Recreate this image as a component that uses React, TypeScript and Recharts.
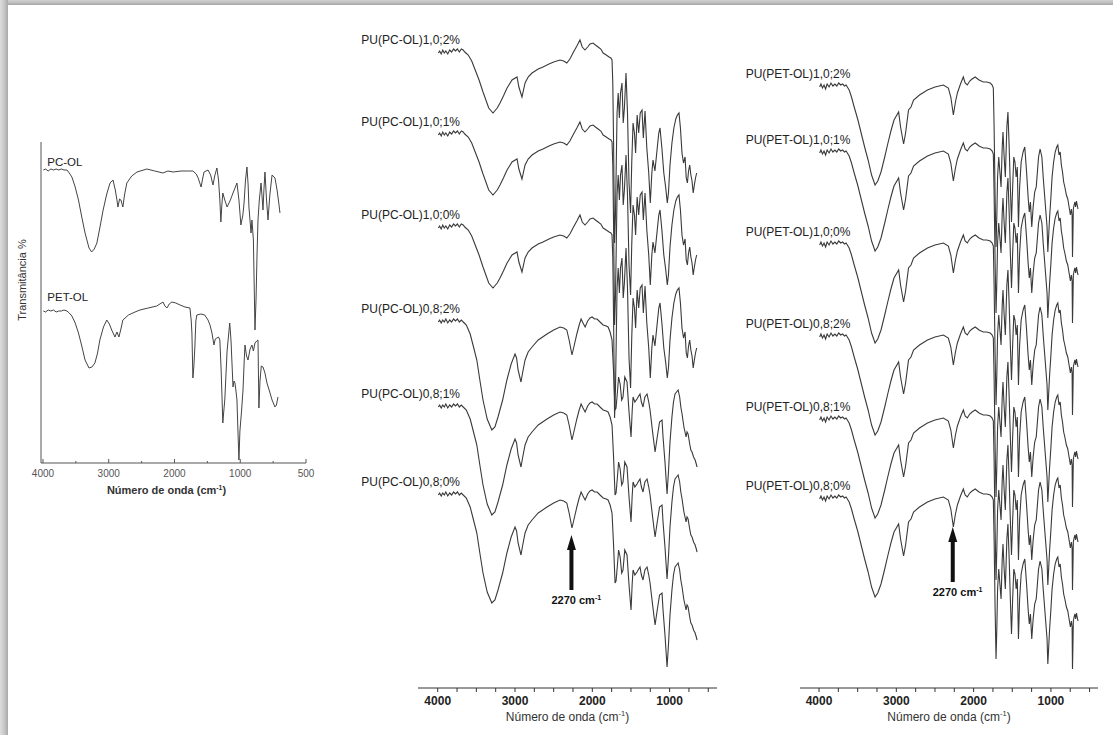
import { LineChart, Line, XAxis, YAxis, ReferenceDot } from 'recharts'

/**
 * FTIR spectra: PC-OL / PET-OL polyols (left) and the PU films made from them
 * (middle: PC-OL, right: PET-OL). Spectra are stacked with a vertical offset,
 * as in the original figure. Residual NCO band marked at 2270 cm-1.
 */

const FONT = 'Arial, "Liberation Sans", Helvetica, sans-serif'
const INK = '#333'

// [wavenumber cm-1, absorption depth below the trace's own baseline (a.u.)]
const PC_10_PROFILE: [number, number][] = [
  [3992, 0], [3975, -2], [3955, 1], [3935, -3], [3915, 0], [3895, -2], [3870, 1], [3845, -3], [3820, -1],
  [3795, -4], [3770, -2], [3745, -4], [3720, -1], [3695, -4], [3670, -3], [3650, -1], [3605, 2], [3560, 8],
  [3515, 17], [3465, 27], [3414, 39], [3340, 55], [3285, 60], [3230, 55], [3194, 50], [3150, 43], [3103, 35],
  [3039, 27], [2974, 24], [2950, 34], [2910, 44], [2870, 30], [2830, 24], [2780, 20], [2700, 16], [2638, 14],
  [2560, 11], [2500, 9], [2418, 7], [2370, 8], [2330, 10], [2290, 6], [2250, 0], [2200, -7], [2160, -13],
  [2130, -6], [2095, -3], [2060, -6], [2030, -9], [1990, -10], [1960, -8], [1925, -6], [1890, -4], [1860, 0],
  [1820, 2], [1783, 4], [1760, 5], [1745, 7], [1735, 30], [1725, 90], [1712, 190], [1700, 160], [1690, 110],
  [1680, 60], [1665, 40], [1650, 65], [1635, 40], [1616, 30], [1600, 70], [1585, 55], [1564, 20], [1545, 60],
  [1525, 130], [1505, 160], [1490, 110], [1473, 70], [1455, 80], [1440, 100], [1420, 62], [1400, 80],
  [1380, 60], [1357, 57], [1340, 85], [1318, 58], [1295, 95], [1270, 120], [1250, 150], [1230, 120],
  [1215, 107], [1190, 118], [1160, 95], [1140, 80], [1124, 75], [1100, 95], [1075, 120], [1050, 135],
  [1030, 150], [1015, 140], [995, 112], [970, 90], [945, 75], [920, 66], [900, 62], [879, 60], [860, 75],
  [840, 100], [820, 110], [800, 104], [785, 125], [770, 130], [755, 118], [740, 112], [725, 122], [710, 128],
  [695, 140], [680, 132], [665, 125], [650, 120],
]

const PC_08_PROFILE: [number, number][] = [
  [3992, 0], [3975, -2], [3955, 1], [3935, -2], [3915, 0], [3895, -3], [3870, 1], [3845, -2], [3820, 0],
  [3795, -3], [3770, -1], [3745, -3], [3720, 0], [3695, -2], [3670, 0], [3630, 3], [3580, 12], [3540, 24],
  [3494, 38], [3455, 58], [3414, 78], [3360, 97], [3300, 108], [3260, 105], [3220, 95], [3160, 78],
  [3105, 58], [3050, 42], [3000, 32], [2980, 36], [2960, 48], [2923, 60], [2900, 50], [2870, 38], [2830, 30],
  [2780, 25], [2700, 18], [2586, 12], [2500, 8], [2418, 5], [2370, 6], [2330, 8], [2300, 18], [2263, 33],
  [2230, 22], [2200, 12], [2170, 3], [2145, -3], [2120, 1], [2093, 5], [2060, -1], [2030, -4], [2003, -5],
  [1970, -3], [1938, -3], [1900, 0], [1860, 3], [1820, 4], [1796, 5], [1770, 10], [1745, 18], [1725, 50],
  [1706, 88], [1693, 86], [1675, 70], [1660, 55], [1640, 62], [1620, 78], [1603, 75], [1580, 55],
  [1551, 60], [1525, 90], [1499, 115], [1485, 90], [1473, 75], [1450, 80], [1422, 77], [1400, 74],
  [1383, 72], [1365, 80], [1344, 85], [1320, 75], [1292, 72], [1270, 80], [1253, 88], [1220, 110],
  [1188, 130], [1160, 115], [1130, 100], [1098, 98], [1085, 115], [1060, 140], [1033, 172], [1015, 150],
  [995, 120], [970, 95], [950, 80], [930, 72], [910, 70], [890, 68], [870, 75], [855, 85], [839, 92],
  [815, 105], [787, 115], [775, 110], [761, 112], [740, 122], [725, 128], [710, 130], [690, 135], [670, 138],
  [655, 142], [645, 145],
]

const PET_PROFILE: [number, number][] = [
  [3992, 0], [3975, -3], [3955, 1], [3935, -2], [3915, 2], [3895, -3], [3870, 0], [3845, -4], [3820, -1],
  [3795, -3], [3770, -1], [3745, -4], [3720, -2], [3695, -3], [3670, -1], [3650, -2], [3610, 3], [3580, 10],
  [3545, 20], [3500, 32], [3455, 46], [3410, 60], [3365, 73], [3320, 88], [3275, 98], [3240, 94], [3198, 85],
  [3150, 70], [3108, 56], [3070, 44], [3030, 33], [2970, 25], [2945, 40], [2906, 57], [2880, 46], [2842, 23],
  [2810, 20], [2777, 13], [2700, 8], [2597, 3], [2500, 0], [2391, -2], [2327, 1], [2295, 10], [2262, 28],
  [2235, 15], [2210, 6], [2170, -3], [2133, -10], [2110, -4], [2082, -2], [2050, -6], [2020, -8], [1979, -10],
  [1930, -7], [1875, -5], [1830, -5], [1785, -4], [1760, -2], [1745, 1], [1735, 40], [1722, 110], [1710, 160],
  [1700, 130], [1690, 90], [1675, 70], [1660, 85], [1645, 100], [1630, 60], [1620, 45], [1605, 70],
  [1590, 90], [1570, 40], [1556, 25], [1540, 60], [1525, 100], [1510, 135], [1495, 100], [1480, 70],
  [1465, 75], [1450, 90], [1435, 80], [1420, 140], [1405, 100], [1385, 75], [1360, 65], [1338, 60],
  [1315, 85], [1295, 110], [1280, 125], [1265, 115], [1248, 140], [1230, 120], [1210, 105], [1190, 100],
  [1160, 70], [1140, 62], [1117, 70], [1100, 90], [1080, 110], [1065, 125], [1050, 140], [1040, 165],
  [1030, 150], [1017, 130], [1000, 110], [985, 90], [965, 75], [945, 65], [925, 60], [911, 58], [895, 68],
  [880, 65], [865, 78], [850, 85], [835, 95], [820, 100], [800, 108], [782, 112], [765, 120], [748, 128],
  [735, 122], [726, 128], [721, 170], [716, 150], [710, 122], [700, 118], [690, 115], [680, 120], [670, 114],
  [660, 118], [650, 122],
]

const PC_OL_PROFILE: [number, number][] = [
  [3995, 0], [3960, -1], [3920, 1], [3880, -1], [3840, 0], [3800, -1], [3760, 0], [3720, -1], [3680, 0],
  [3635, 0], [3600, 3], [3560, 7], [3510, 17], [3460, 30], [3410, 47], [3360, 63], [3300, 78], [3260, 82],
  [3220, 79], [3180, 73], [3130, 56], [3085, 40], [3030, 24], [2980, 13], [2935, 10], [2900, 20], [2875, 30],
  [2860, 37], [2835, 29], [2815, 30], [2785, 37], [2760, 25], [2725, 13], [2650, 6], [2570, 2], [2420, -1],
  [2300, 1], [2175, 3], [2100, 1], [2020, 2], [1900, 1], [1800, 1], [1720, 1], [1670, 4], [1640, 8],
  [1595, 17], [1570, 8], [1550, 2], [1490, 0], [1450, 5], [1415, 15], [1385, 5], [1355, -2], [1330, 10],
  [1310, 30], [1295, 52], [1280, 35], [1265, 23], [1235, 30], [1200, 37], [1150, 30], [1110, 23], [1050, 13],
  [1020, 30], [995, 55], [980, 45], [971, 33], [960, 10], [949, -3], [940, 15], [934, 37], [918, 63],
  [911, 50], [900, 70], [888, 160], [880, 130], [872, 83], [865, 50], [855, 30], [842, 13], [835, 25],
  [827, 40], [820, 20], [812, 2], [800, 30], [789, 50], [775, 25], [758, 5], [736, 8], [720, 20], [705, 35],
  [698, 43],
]

const PET_OL_PROFILE: [number, number][] = [
  [3995, 0], [3960, 1], [3920, -1], [3880, 0], [3840, -1], [3800, 1], [3760, 0], [3720, 0], [3680, -1],
  [3635, 0], [3600, 2], [3560, 5], [3510, 12], [3460, 22], [3410, 35], [3360, 49], [3300, 57], [3255, 56],
  [3210, 52], [3170, 42], [3135, 29], [3080, 16], [3030, 9], [2990, 13], [2955, 19], [2905, 26], [2875, 21],
  [2845, 26], [2815, 18], [2785, 9], [2700, 4], [2600, 1], [2525, -1], [2400, -3], [2270, -5], [2175, -9],
  [2145, -5], [2115, -3], [2080, -7], [2040, -9], [1980, -8], [1915, -6], [1840, -4], [1765, -3], [1745, 10],
  [1735, 22], [1720, 67], [1705, 55], [1690, 36], [1675, 10], [1660, 4], [1600, 3], [1540, 4], [1490, 9],
  [1460, 14], [1430, 22], [1400, 34], [1380, 28], [1355, 27], [1330, 26], [1310, 29], [1290, 60], [1265, 112],
  [1250, 100], [1235, 89], [1200, 40], [1160, 12], [1140, 30], [1110, 76], [1095, 70], [1080, 72], [1065, 80],
  [1050, 89], [1035, 120], [1020, 149], [1005, 120], [990, 100], [979, 79], [970, 50], [964, 34], [952, 45],
  [941, 49], [925, 38], [911, 34], [900, 40], [888, 32], [875, 30], [865, 29], [858, 97], [850, 70], [840, 55],
  [827, 56], [812, 62], [797, 72], [778, 80], [758, 89], [736, 96], [725, 94], [713, 86],
]

const PC_SERIES = ['PU(PC-OL)1,0;2%', 'PU(PC-OL)1,0;1%', 'PU(PC-OL)1,0;0%', 'PU(PC-OL)0,8;2%', 'PU(PC-OL)0,8;1%', 'PU(PC-OL)0,8;0%']
const PC_PROFILES = [PC_10_PROFILE, PC_10_PROFILE, PC_10_PROFILE, PC_08_PROFILE, PC_08_PROFILE, PC_08_PROFILE]
const PC_OFFSETS = [635, 553, 460, 366, 281, 193]

const PET_SERIES = ['PU(PET-OL)1,0;2%', 'PU(PET-OL)1,0;1%', 'PU(PET-OL)1,0;0%', 'PU(PET-OL)0,8;2%', 'PU(PET-OL)0,8;1%', 'PU(PET-OL)0,8;0%']
const PET_PROFILES = [PET_PROFILE, PET_PROFILE, PET_PROFILE, PET_PROFILE, PET_PROFILE, PET_PROFILE]
const PET_OFFSETS = [601, 535, 443, 351, 268, 189]

const OL_SERIES = ['PC-OL', 'PET-OL']
const OL_PROFILES = [PC_OL_PROFILE, PET_OL_PROFILE]
const OL_OFFSETS = [293, 152]

const PU_TICKS = [4000, 3750, 3500, 3250, 3000, 2750, 2500, 2250, 2000, 1750, 1500, 1250, 1000, 750, 500]
const PU_TICK_LABELS = [4000, 3000, 2000, 1000]

// left panel: scale doubles below 1000 cm-1, so axis runs on a folded coordinate u
const OL_TICKS_U = [4000, 3500, 3000, 2500, 2000, 1500, 1000, 500, 0]
const OL_TICK_LABELS_U = [4000, 3000, 2000, 1000, 0]
const toU = (wn: number) => (wn >= 1000 ? wn : 2 * wn - 1000)
const fromU = (u: number) => (u >= 1000 ? u : (u + 1000) / 2)

const NCO_BAND = 2270

const stack = (profile: [number, number][], offset: number, key = 'wn') =>
  profile.map(([wn, d]) => ({ [key]: key === 'u' ? toU(wn) : wn, t: offset - d }))

function Cm1({ size }: { size: number }) {
  return (
    <>
      cm<tspan fontSize={size * 0.62} dy={-size * 0.38}>-1</tspan>
      <tspan dy={size * 0.38}>)</tspan>
    </>
  )
}

function AxisTitle(props: any) {
  const { viewBox, dy, dx = 0, size, bold } = props
  if (!viewBox) return null
  return (
    <text
      x={viewBox.x + viewBox.width / 2 + dx}
      y={viewBox.y + dy}
      textAnchor="middle"
      fontFamily={FONT}
      fontSize={size}
      fontWeight={bold ? 'bold' : 'normal'}
      fill={INK}
    >
      Número de onda (<Cm1 size={size} />
    </text>
  )
}

function PuTick(props: any) {
  const { x, y, payload } = props
  const v = payload.value
  return (
    <g>
      <line x1={x} x2={x} y1={y} y2={y + 4} stroke={INK} strokeWidth={1} />
      {PU_TICK_LABELS.includes(v) && (
        <text x={x} y={y + 17} textAnchor="middle" fontFamily={FONT} fontSize={12} fontWeight="bold" fill="#222">
          {v}
        </text>
      )}
    </g>
  )
}

function OlTick(props: any) {
  const { x, y, payload } = props
  const u = payload.value
  const major = OL_TICK_LABELS_U.includes(u)
  return (
    <g>
      <line x1={x} x2={x} y1={y} y2={y - (major ? 4 : 2)} stroke="#555" strokeWidth={1} />
      {major && (
        <text x={x} y={y + 14} textAnchor="middle" fontFamily={FONT} fontSize={10} fill="#555">
          {fromU(u)}
        </text>
      )}
    </g>
  )
}

function Arrow(props: any) {
  const { cx, cy } = props
  if (cx == null || cy == null) return null
  return (
    <g>
      <polygon points={`${cx},${cy} ${cx - 4.5},${cy + 15} ${cx + 4.5},${cy + 15}`} fill="#111" />
      <rect x={cx - 2} y={cy + 12} width={4} height={43} fill="#111" />
      <text x={cx - 20} y={cy + 69} fontFamily={FONT} fontSize={11} fontWeight="bold" fill="#111">
        2270 cm<tspan fontSize={7} dy={-4}>-1</tspan>
      </text>
    </g>
  )
}

function SeriesLabel(name: string, dx: number, dy: number, size: number) {
  return (p: any) => (
    <text x={p.cx + dx} y={p.cy + dy} fontFamily={FONT} fontSize={size} fill="#222">
      {name}
    </text>
  )
}

function PuPanel({ plotLeft, plotWidth, rightPad, domain, names, profiles, offsets, arrowTip, labelDx }: any) {
  const padLeft = 80
  const width = padLeft + plotWidth + rightPad
  const margin = { top: 30, right: rightPad, left: padLeft, bottom: 7 }
  return (
    <div style={{ position: 'absolute', left: plotLeft - padLeft, top: 0 }}>
      <LineChart width={width} height={735} margin={margin}>
        <XAxis
          dataKey="wn"
          type="number"
          domain={domain}
          allowDataOverflow
          reversed
          ticks={PU_TICKS}
          interval={0}
          tickSize={0}
          tickMargin={0}
          tickLine={false}
          axisLine={{ stroke: INK, strokeWidth: 1 }}
          tick={<PuTick />}
          height={40}
          label={<AxisTitle dy={33} size={12} />}
        />
        <YAxis hide type="number" domain={[0, 658]} allowDataOverflow />
        {names.map((name: string, i: number) => (
          <Line
            key={name}
            data={stack(profiles[i], offsets[i])}
            dataKey="t"
            type="linear"
            stroke="#3a3a3a"
            strokeWidth={1.1}
            dot={false}
            isAnimationActive={false}
          />
        ))}
        {names.map((name: string, i: number) => (
          <ReferenceDot
            key={name + '-lbl'}
            x={profiles[i][0][0]}
            y={offsets[i] - profiles[i][0][1]}
            r={0}
            ifOverflow="visible"
            shape={SeriesLabel(name, labelDx, -9, 12)}
          />
        ))}
        <ReferenceDot x={NCO_BAND} y={arrowTip} r={0} ifOverflow="visible" shape={<Arrow />} />
      </LineChart>
    </div>
  )
}

function PolyolPanel() {
  return (
    <div style={{ position: 'absolute', left: 0, top: 0 }}>
      <LineChart width={320} height={510} margin={{ top: 142, right: 14, left: 0, bottom: 7 }}>
        <XAxis
          dataKey="u"
          type="number"
          domain={[0, 4030]}
          allowDataOverflow
          reversed
          ticks={OL_TICKS_U}
          interval={0}
          tickSize={0}
          tickMargin={0}
          tickLine={false}
          axisLine={{ stroke: '#555', strokeWidth: 1 }}
          tick={<OlTick />}
          height={40}
          label={<AxisTitle dy={31} dx={-7} size={11} bold />}
        />
        <YAxis
          type="number"
          domain={[0, 321]}
          width={41}
          tick={false}
          tickLine={false}
          axisLine={{ stroke: '#555', strokeWidth: 1 }}
          label={() => (
            <text
              x={22}
              y={280}
              transform="rotate(-90 22 280)"
              textAnchor="middle"
              dominantBaseline="central"
              fontFamily={FONT}
              fontSize={11}
              fill="#333"
            >
              Transmitância %
            </text>
          )}
        />
        {OL_SERIES.map((name, i) => (
          <Line
            key={name}
            data={stack(OL_PROFILES[i], OL_OFFSETS[i], 'u')}
            dataKey="t"
            type="linear"
            stroke="#444"
            strokeWidth={1}
            dot={false}
            isAnimationActive={false}
          />
        ))}
        {OL_SERIES.map((name, i) => (
          <ReferenceDot
            key={name + '-lbl'}
            x={toU(OL_PROFILES[i][0][0])}
            y={OL_OFFSETS[i] - OL_PROFILES[i][0][1]}
            r={0}
            ifOverflow="visible"
            shape={SeriesLabel(name, 4, i === 0 ? -4 : -10, 11.5)}
          />
        ))}
      </LineChart>
    </div>
  )
}

export default function App() {
  return (
    <div style={{ position: 'fixed', left: 0, top: 0, width: 1113, height: 735, background: '#fff', overflow: 'hidden' }}>
      <div style={{ position: 'absolute', left: 0, top: 0, width: 1113, height: 5, background: 'linear-gradient(to bottom, #d2d2d2, #bcbcbc 60%, #a4a4a4)' }} />
      <div style={{ position: 'absolute', left: 0, top: 0, width: 8, height: 735, background: 'linear-gradient(to right, #dedede, #c6c6c6 55%, #a8a8a8)' }} />
      <PolyolPanel />
      <PuPanel
        plotLeft={418}
        plotWidth={299}
        rightPad={23}
        domain={[387, 4255]}
        names={PC_SERIES}
        profiles={PC_PROFILES}
        offsets={PC_OFFSETS}
        arrowTip={153}
        labelDx={-77}
      />
      <PuPanel
        plotLeft={800}
        plotWidth={298}
        rightPad={15}
        domain={[391, 4246]}
        names={PET_SERIES}
        profiles={PET_PROFILES}
        offsets={PET_OFFSETS}
        arrowTip={161}
        labelDx={-74}
      />
    </div>
  )
}
